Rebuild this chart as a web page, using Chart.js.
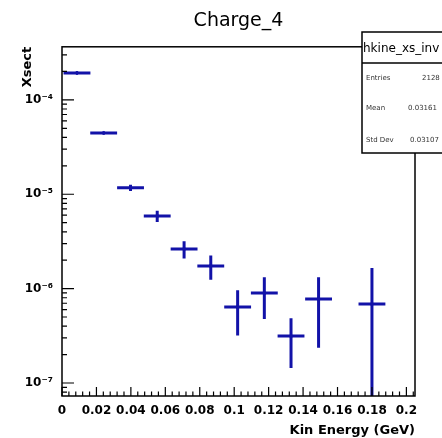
<!DOCTYPE html>
<html>
<head>
<meta charset="utf-8">
<script src="https://cdn.jsdelivr.net/npm/chart.js@4"></script>
<style>
  html, body { margin: 0; padding: 0; background: #fff; }
  canvas { display: block; }
</style>
</head>
<body>
<canvas id="xsChart" width="442" height="438"></canvas>
<script>
// bin centres (GeV), cross section and its error
const binCenters = [0.0087, 0.0242, 0.0398, 0.0553, 0.0709, 0.0864, 0.1020, 0.1175, 0.1330, 0.1490, 0.1800];
const xsect      = [1.93e-4, 4.46e-5, 1.17e-5, 5.89e-6, 2.63e-6, 1.74e-6, 6.38e-7, 8.97e-7, 3.14e-7, 7.76e-7, 6.87e-7];
const xsectErr   = [4e-6, 1.5e-6, 0.9e-6, 0.8e-6, 0.55e-6, 0.5e-6, 3.2e-7, 4.2e-7, 1.7e-7, 5.4e-7, 9.7e-7];
const binHalfWidth = 0.0078;

const xTickValues = [0, 0.02, 0.04, 0.06, 0.08, 0.1, 0.12, 0.14, 0.16, 0.18, 0.2];
const xTickLabels = ['0', '0.02', '0.04', '0.06', '0.08', '0.1', '0.12', '0.14', '0.16', '0.18', '0.2'];
const yTickValues = [1e-7, 1e-6, 1e-5, 1e-4];
const yTickLabels = ['10\u207B\u2077', '10\u207B\u2076', '10\u207B\u2075', '10\u207B\u2074'];

const statsName = 'hkine_xs_inv';
const statsLabels = ['Entries', 'Mean', 'Std Dev'];
const statsValues = ['2128', '0.03161', '0.03107'];

const markerColor = '#1212a8';
const fontFamily = "'DejaVu Sans', sans-serif";

// frame, inward ticks, error bars and the stats box (ROOT style)
const rootFrame = {
  id: 'rootFrame',
  afterDatasetsDraw(chart) {
    const { ctx, chartArea: a, scales: { x, y } } = chart;
    ctx.save();
    ctx.beginPath();
    ctx.rect(a.left, a.top, a.right - a.left, a.bottom - a.top);
    ctx.clip();
    ctx.strokeStyle = markerColor;
    ctx.lineWidth = 3;
    binCenters.forEach((c, i) => {
      const v = xsect[i];
      const e = xsectErr[i];
      const py = y.getPixelForValue(v);
      const px = x.getPixelForValue(c);
      const top = y.getPixelForValue(v + e);
      const bot = v - e > 0 ? y.getPixelForValue(v - e) : a.bottom + 5;
      ctx.beginPath();
      ctx.moveTo(x.getPixelForValue(c - binHalfWidth), py);
      ctx.lineTo(x.getPixelForValue(c + binHalfWidth), py);
      ctx.moveTo(px, top);
      ctx.lineTo(px, bot);
      ctx.stroke();
    });
    ctx.restore();
  },
  afterDraw(chart) {
    const { ctx, chartArea: a, scales: { x, y } } = chart;
    ctx.save();
    ctx.strokeStyle = '#000';
    ctx.lineWidth = 1.5;
    ctx.strokeRect(a.left, a.top, a.right - a.left, a.bottom - a.top);

    // x ticks, pointing up into the frame
    ctx.lineWidth = 1.2;
    ctx.beginPath();
    for (let k = 0; k * 0.004 <= x.max + 1e-9; k++) {
      const px = x.getPixelForValue(k * 0.004);
      const len = k % 5 === 0 ? 9 : 4.5;
      ctx.moveTo(px, a.bottom);
      ctx.lineTo(px, a.bottom - len);
    }
    // y ticks on a log axis, pointing right
    for (let p = -8; p <= -3; p++) {
      for (let m = 1; m <= 9; m++) {
        const v = m * Math.pow(10, p);
        if (v < y.min || v > y.max) continue;
        const py = y.getPixelForValue(v);
        const len = m === 1 ? 12 : 5;
        ctx.moveTo(a.left, py);
        ctx.lineTo(a.left + len, py);
      }
    }
    ctx.stroke();

    // stats box, cut by the right edge of the canvas
    const bx = 362, by = 32, bh = 121;
    ctx.fillStyle = '#fff';
    ctx.fillRect(bx, by, chart.width - bx + 5, bh);
    ctx.lineWidth = 1.5;
    ctx.strokeRect(bx, by, chart.width - bx + 5, bh);
    ctx.beginPath();
    ctx.moveTo(bx, by + 31);
    ctx.lineTo(chart.width, by + 31);
    ctx.stroke();
    ctx.fillStyle = '#000';
    ctx.textBaseline = 'middle';
    ctx.font = '12px ' + fontFamily;
    ctx.fillText(statsName, bx + 1, by + 17);
    ctx.font = '7px ' + fontFamily;
    ctx.fillStyle = '#333';
    const rowY = [78, 108, 140];
    const valX = [422, 408, 410];
    statsLabels.forEach((lab, i) => {
      ctx.fillText(lab, bx + 4, rowY[i]);
      ctx.fillText(statsValues[i], valX[i], rowY[i]);
    });
    ctx.restore();
  }
};

const ctx = document.getElementById('xsChart').getContext('2d');
const chart = new Chart(ctx, {
  type: 'scatter',
  data: {
    datasets: [{
      label: 'Charge_4',
      data: binCenters.map((c, i) => ({ x: c, y: xsect[i] })),
      backgroundColor: markerColor,
      borderColor: markerColor,
      pointRadius: 1.5,
      pointHoverRadius: 1.5
    }]
  },
  options: {
    responsive: false,
    animation: false,
    layout: { padding: { left: 0, right: 27, top: 0, bottom: 0 } },
    plugins: {
      legend: { display: false },
      tooltip: { enabled: false },
      title: {
        display: true,
        text: 'Charge_4',
        fullSize: false,
        color: '#000',
        font: { family: fontFamily, size: 19, weight: 'normal', lineHeight: 1.2 },
        padding: { top: 10, bottom: 14 }
      }
    },
    scales: {
      x: {
        type: 'linear',
        min: 0,
        max: 0.205,
        grid: { display: false, drawTicks: false },
        border: { display: false },
        afterBuildTicks: (scale) => { scale.ticks = xTickValues.map(v => ({ value: v })); },
        afterFit: (scale) => { scale.height = 42; },
        ticks: {
          autoSkip: false,
          maxRotation: 0,
          padding: 8,
          color: '#000',
          font: { family: fontFamily, size: 12, weight: 'bold' },
          callback: (value, index) => xTickLabels[index]
        },
        title: {
          display: true,
          text: 'Kin Energy (GeV)',
          align: 'end',
          color: '#000',
          font: { family: fontFamily, size: 13, weight: 'bold', lineHeight: 1.2 },
          padding: { top: 0, bottom: 0 }
        }
      },
      y: {
        type: 'logarithmic',
        min: 7.28e-8,
        max: 3.65e-4,
        grid: { display: false, drawTicks: false },
        border: { display: false },
        afterBuildTicks: (scale) => { scale.ticks = yTickValues.map(v => ({ value: v })); },
        afterFit: (scale) => { scale.width = 62; },
        ticks: {
          autoSkip: false,
          padding: 9,
          color: '#000',
          font: { family: fontFamily, size: 12, weight: 'bold' },
          callback: (value, index) => yTickLabels[index]
        },
        title: {
          display: true,
          text: 'Xsect',
          align: 'end',
          color: '#000',
          font: { family: fontFamily, size: 13, weight: 'bold', lineHeight: 1.2 },
          padding: { top: 20, bottom: 0 }
        }
      }
    }
  },
  plugins: [rootFrame]
});
</script>
</body>
</html>
